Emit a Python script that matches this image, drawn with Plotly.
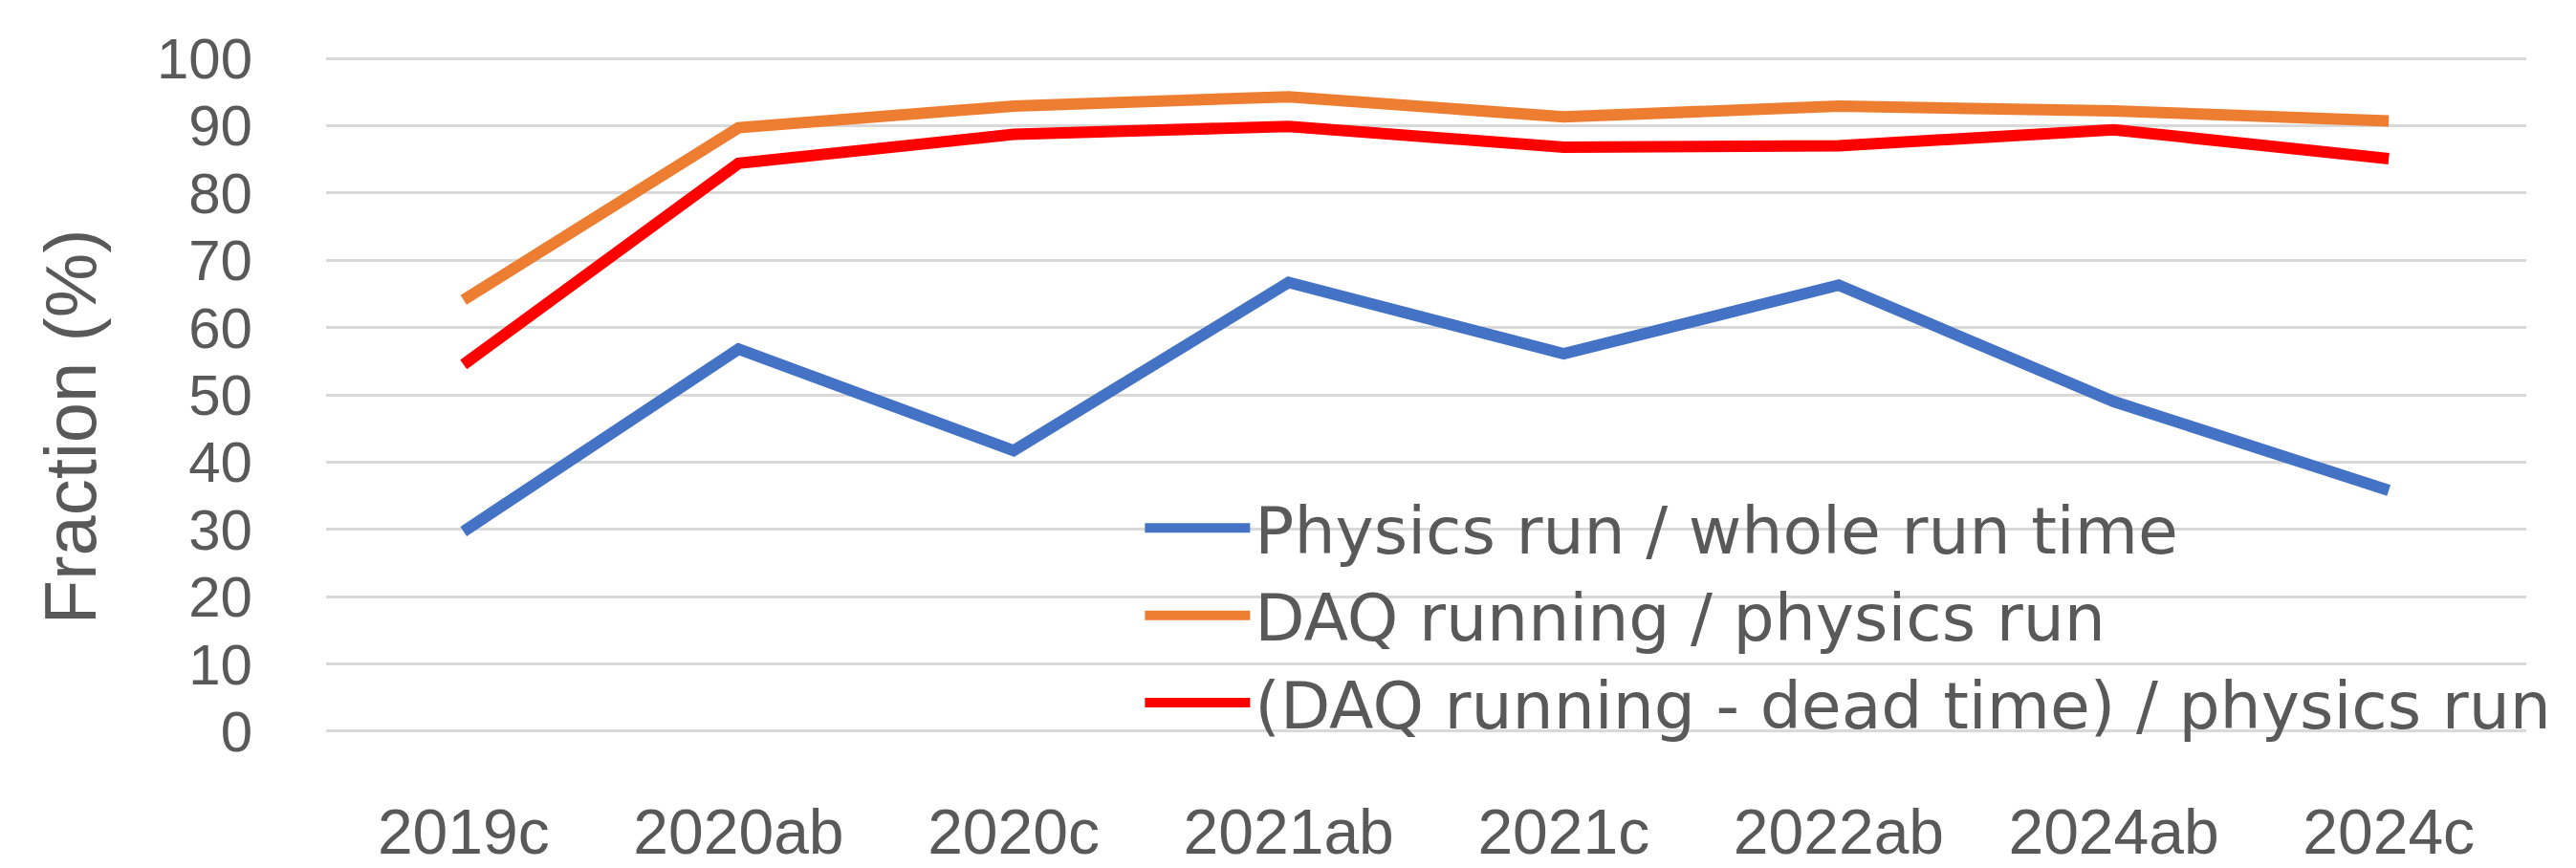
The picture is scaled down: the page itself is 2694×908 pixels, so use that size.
import plotly.graph_objects as go

# run periods
periods = ["2019c", "2020ab", "2020c", "2021ab", "2021c", "2022ab", "2024ab", "2024c"]

# fractions in %
physics_frac = [29.7, 56.8, 41.7, 66.7, 56.1, 66.3, 49.0, 35.8]
daq_frac = [64.1, 89.7, 92.9, 94.3, 91.3, 92.9, 92.2, 90.7]
live_frac = [54.5, 84.4, 88.7, 89.9, 86.8, 87.0, 89.4, 85.1]

names = ["Physics run / whole run time",
         "DAQ running / physics run",
         "(DAQ running - dead time) / physics run"]
colors = ["#4472C4", "#ED7D31", "#FF0000"]

grey = "#595959"

fig = go.Figure()
for name, vals, col in zip(names, [physics_frac, daq_frac, live_frac], colors):
    fig.add_trace(go.Scatter(x=periods, y=vals, name=name, mode="lines",
                             line=dict(color=col, width=12)))

fig.update_layout(
    width=2694, height=908,
    paper_bgcolor="white", plot_bgcolor="white",
    margin=dict(l=333, r=60, t=52, b=150),
    font=dict(family="Liberation Sans", color=grey),
    legend=dict(x=0.37, y=0.3745, xanchor="left", yanchor="top",
                bgcolor="rgba(0,0,0,0)", font=dict(family="DejaVu Sans", size=68, color=grey),
                tracegroupgap=0, itemwidth=110),
    showlegend=True,
)
# y axis title placed a bit below the plot centre, as in the original
fig.add_annotation(text="Fraction (%)", textangle=-90, showarrow=False,
                   xref="paper", yref="paper", x=0, y=0.453, xanchor="center", yanchor="middle",
                   xshift=-268, font=dict(size=76, color=grey))
fig.update_xaxes(range=[-0.5, 7.5], showgrid=False, showline=False, automargin=False,
                 tickfont=dict(size=66, color=grey), ticks="", ticklabelstandoff=60)
fig.update_yaxes(range=[-0.15, 100.15], tickmode="array", tickvals=list(range(0, 101, 10)),
                 showgrid=True, gridcolor="#D9D9D9", gridwidth=3,
                 zeroline=False, showline=False, automargin=False,
                 tickfont=dict(size=60, color=grey), ticklabelstandoff=76)

fig.write_html("out.html")
